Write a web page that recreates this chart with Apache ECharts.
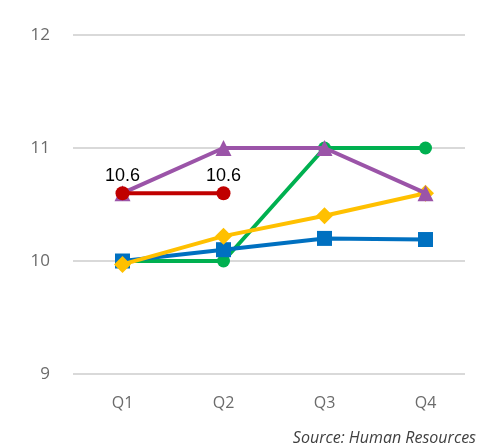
<!DOCTYPE html>
<html>
<head>
<meta charset="utf-8">
<script src="https://cdn.jsdelivr.net/npm/echarts@6/dist/echarts.min.js"></script>
<style>html,body{margin:0;padding:0;background:#fff}#c{width:487px;height:447px}</style>
</head>
<body>
<div id="c"></div>
<script>
var categories = ['Q1', 'Q2', 'Q3', 'Q4'];
var yTicks = [9, 10, 11, 12];
var redSeries = [10.6, 10.6, null, null];
var purpleSeries = [10.6, 11, 11, 10.6];
var greenSeries = [10, 10, 11, 11];
var blueSeries = [10, 10.1, 10.2, 10.19];
var yellowSeries = [9.97, 10.22, 10.4, 10.6];
var sourceText = 'Source: Human Resources';

var FONT = '"Open Sans", "Noto Sans", sans-serif';
var chart = echarts.init(document.getElementById('c'), null, {renderer: 'canvas'});
function line(name, data, color, symbol, size, z) {
  return {
    name: name, type: 'line', xAxisIndex: 1, yAxisIndex: 1, data: data,
    symbol: symbol, symbolSize: size, z: z,
    lineStyle: {color: color, width: 4},
    itemStyle: {color: color},
    connectNulls: false, animation: false
  };
}
var red = line('red', redSeries, '#C00000', 'circle', 14, 6);
red.label = {show: true, position: 'top', distance: 1, color: '#000', fontSize: 18, fontFamily: '"Liberation Sans", Arial, sans-serif',
  formatter: function (p) { return p.value.toFixed(1); }};
chart.setOption({
  animation: false,
  title: {text: sourceText, right: 6, top: 425,
    textStyle: {fontStyle: 'italic', fontWeight: 'normal', fontSize: 16, color: '#404040', fontFamily: FONT}},
  grid: [
    {left: 73, right: 22, top: 35, bottom: 73},
    {left: 72, right: 11, top: 35, bottom: 73}
  ],
  xAxis: [
    {gridIndex: 0, type: 'category', data: categories, show: false},
    {gridIndex: 1, type: 'category', data: categories, boundaryGap: true,
      axisLine: {show: false}, axisTick: {show: false},
      axisLabel: {color: '#6b6b6b', fontSize: 16, margin: 21, fontFamily: FONT}}
  ],
  yAxis: [
    {gridIndex: 0, type: 'value', min: yTicks[0], max: yTicks[yTicks.length - 1], interval: 1,
      axisLine: {show: false}, axisTick: {show: false},
      axisLabel: {color: '#6b6b6b', fontSize: 17, margin: 23, fontFamily: FONT},
      splitLine: {lineStyle: {color: '#D9D9D9', width: 2}}},
    {gridIndex: 1, type: 'value', min: yTicks[0], max: yTicks[yTicks.length - 1], interval: 1, show: false,
      splitLine: {show: false}}
  ],
  series: [
    line('green', greenSeries, '#00B050', 'circle', 13, 2),
    line('blue', blueSeries, '#0070C0', 'rect', 15, 3),
    line('yellow', yellowSeries, '#FFC000', 'diamond', 17, 4),
    line('purple', purpleSeries, '#9B54A8', 'triangle', 16, 5),
    red
  ]
});
</script>
</body>
</html>
